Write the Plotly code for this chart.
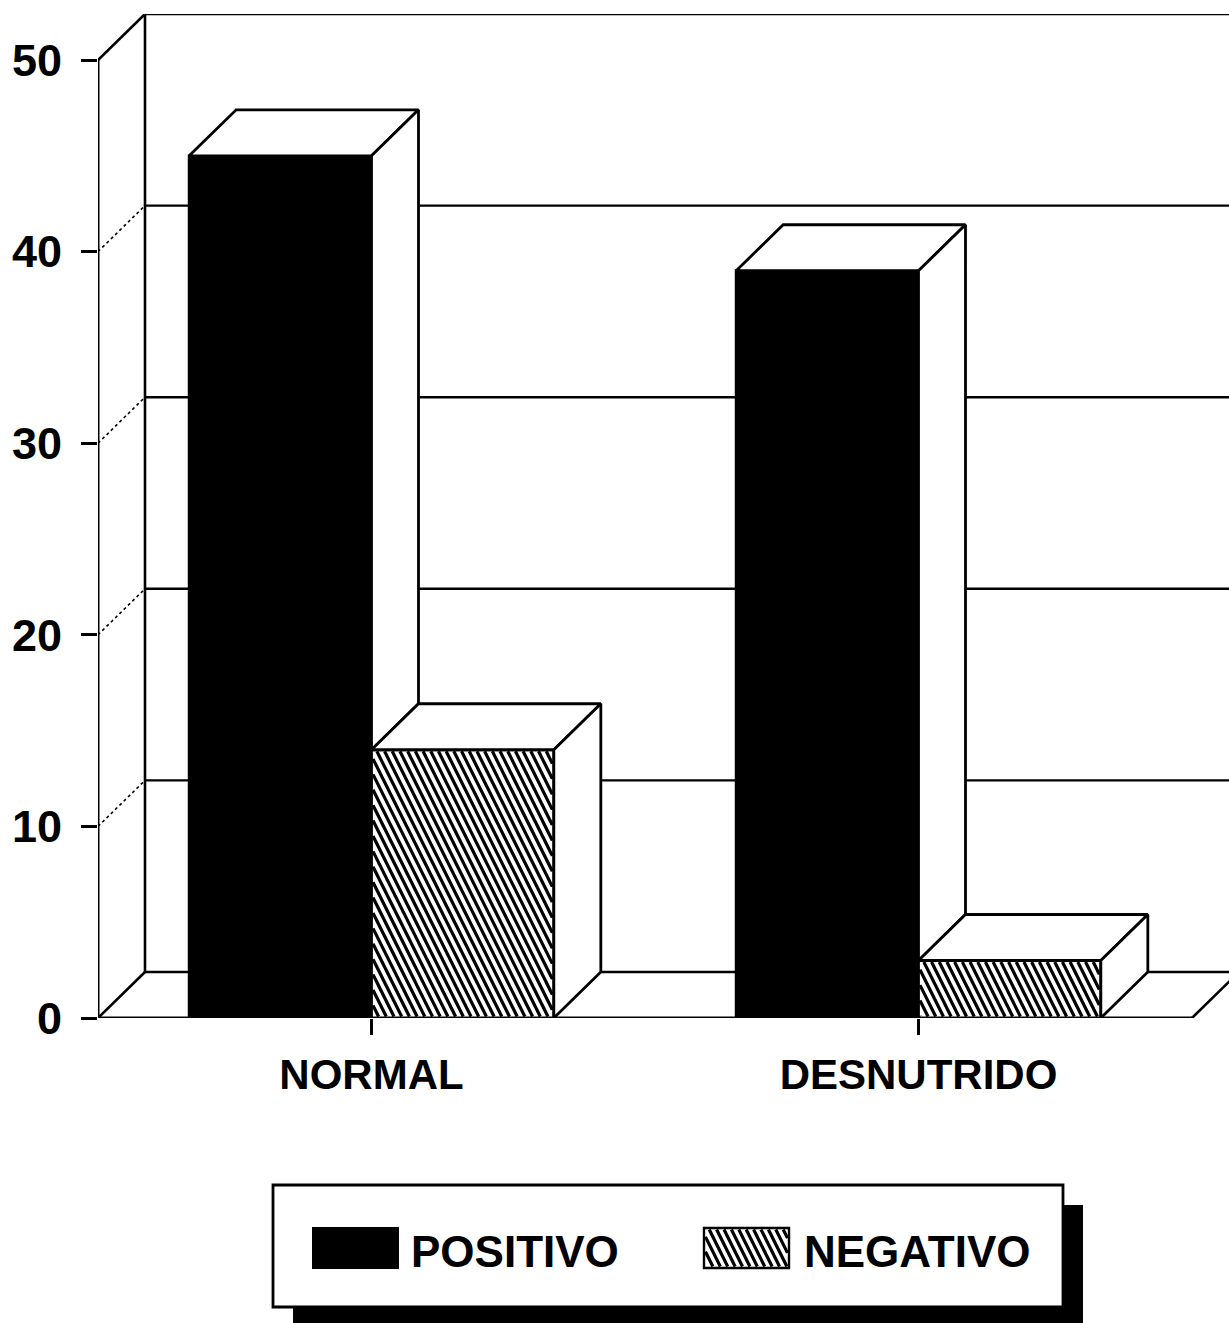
import plotly.graph_objects as go

# ---- data -------------------------------------------------------------
categories = ["NORMAL", "DESNUTRIDO"]
series_names = ["POSITIVO", "NEGATIVO"]
positivo = [45, 39]
negativo = [14, 3]
y_ticks = [0, 10, 20, 30, 40, 50]

# ---- geometry ---------------------------------------------------------
W, H = 1229, 1323
L, R, T, B = 98, 0, 14, 305
PLOT_W = W - L - R
PLOT_H = H - T - B

PX_X = 547.0          # pixels per category step
PX_Y = 19.16          # pixels per value unit
X_MIN = -0.5
X_MAX = X_MIN + PLOT_W / PX_X
Y_MAX = PLOT_H / PX_Y

DX = 47 / PX_X        # depth of the 3D box, in axis units
DY = 46 / PX_Y
BW = 1 / 3            # width of one bar
X_END = 1.5           # right end of the floor's front edge

FONT = "Liberation Sans, Arial, Helvetica, sans-serif"
INK = "black"
EDGE = 2.8


def d2px(x, y):
    return L + (x - X_MIN) * PX_X, T + PLOT_H - y * PX_Y


def px2d(px, py):
    return X_MIN + (px - L) / PX_X, (T + PLOT_H - py) / PX_Y


def px2paper(px, py):
    return (px - L) / PLOT_W, (T + PLOT_H - py) / PLOT_H


def hatch_px(x0, x1, ytop, ybot, period=7.7, slant=0.5, inset=1.5):
    """Steep '\\' hatch segments inside a screen-pixel rectangle."""
    x0 += inset; x1 -= inset; ytop += inset; ybot -= inset
    h = ybot - ytop
    segs = []
    k = 0
    while True:
        c = x0 + period * (k + 0.5)       # x where the line meets the top edge
        if c - period > x1:
            break
        s_lo = max(0.0, (x0 - c) / slant)
        s_hi = min(h, (x1 - c) / slant)
        if s_hi > s_lo:
            segs.append(((c + slant * s_lo, ytop + s_lo), (c + slant * s_hi, ytop + s_hi)))
        k += 1
    # lines entering from the left edge
    k = 1
    while True:
        c = x0 - period * (k - 0.5)
        s_lo = (x0 - c) / slant
        if s_lo >= h:
            break
        s_hi = min(h, (x1 - c) / slant)
        segs.append(((x0, ytop + s_lo), (c + slant * s_hi, ytop + s_hi)))
        k += 1
    return segs


fig = go.Figure()

# ---- front faces of the bars -------------------------------------------
fig.add_trace(go.Bar(
    x=[0, 1], y=positivo, name=series_names[0], width=BW, offset=-BW,
    marker=dict(color=INK, line=dict(color=INK, width=EDGE)),
))
fig.add_trace(go.Bar(
    x=[0, 1], y=negativo, name=series_names[1], width=BW, offset=0,
    marker=dict(color="white", line=dict(color=INK, width=EDGE)),
))


def poly(xs, ys):
    fig.add_trace(go.Scatter(
        x=xs + [xs[0]], y=ys + [ys[0]], mode="lines", fill="toself",
        fillcolor="white", line=dict(color=INK, width=EDGE),
        hoverinfo="skip",
    ))


hx, hy = [], []
for i in range(len(categories)):
    vp, vn = positivo[i], negativo[i]
    # positive bar: top and visible part of its right face
    x0, x1 = i - BW, i
    poly([x0, x1, x1 + DX, x0 + DX], [vp, vp, vp + DY, vp + DY])
    poly([x1, x1, x1 + DX, x1 + DX], [vn, vp, vp + DY, vn + DY])
    # negative bar: top and right face
    x0, x1 = i, i + BW
    poly([x0, x1, x1 + DX, x0 + DX], [vn, vn, vn + DY, vn + DY])
    poly([x1, x1, x1 + DX, x1 + DX], [0, vn, vn + DY, DY])
    # hatching on the negative bar's front face
    ax0, ay0 = d2px(x0, vn)
    ax1, ay1 = d2px(x1, 0)
    for (pa, pb) in hatch_px(ax0, ax1, ay0, ay1):
        xa, ya = px2d(*pa)
        xb, yb = px2d(*pb)
        hx += [xa, xb, None]
        hy += [ya, yb, None]

fig.add_trace(go.Scatter(x=hx, y=hy, mode="lines",
                         line=dict(color=INK, width=3.2), hoverinfo="skip"))

# ---- walls, floor and grid (behind the bars) ----------------------------
shapes = []


def seg(x0, y0, x1, y1, width=2.6, dash="solid"):
    shapes.append(dict(type="line", xref="x", yref="y", x0=x0, y0=y0, x1=x1, y1=y1,
                       layer="below", line=dict(color=INK, width=width, dash=dash)))


top = y_ticks[-1]
seg(X_MIN, 0, X_MIN, top, width=3)              # front vertical axis
seg(X_MIN + DX, DY, X_MIN + DX, top + DY)       # back wall left edge
seg(X_MIN, 0, X_MIN + DX, DY)                   # floor left diagonal
seg(X_MIN, top, X_MIN + DX, top + DY)           # top left diagonal
seg(X_MIN + DX, top + DY, X_MAX, top + DY)      # back wall top edge
seg(X_MIN + DX, DY, X_MAX, DY)                  # floor back edge
seg(X_MIN, 0, X_END, 0, width=3)                # floor front edge
seg(X_END, 0, X_END + DX, DY)                   # floor right diagonal
for v in y_ticks[1:-1]:
    seg(X_MIN + DX, v + DY, X_MAX, v + DY, width=2.4)         # back gridline
    seg(X_MIN, v, X_MIN + DX, v + DY, width=1.6, dash="dot")  # side wall

# ---- legend ------------------------------------------------------------
def rect_paper(px0, py0, px1, py1, fill, lw=0):
    a = px2paper(px0, py0)
    b = px2paper(px1, py1)
    shapes.append(dict(type="rect", xref="paper", yref="paper",
                       x0=a[0], y0=b[1], x1=b[0], y1=a[1], fillcolor=fill,
                       line=dict(color=INK, width=lw), layer="above"))


rect_paper(293, 1205, 1083, 1335, INK)                 # drop shadow
rect_paper(273, 1185, 1063, 1307, "white", lw=2.8)     # frame
rect_paper(313, 1228, 398, 1268, INK, lw=2)            # positive swatch
rect_paper(704, 1228, 789, 1268, "white", lw=2.4)      # negative swatch
path = ""
for (pa, pb) in hatch_px(704, 789, 1228, 1268, period=7.4):
    a = px2paper(*pa)
    b = px2paper(*pb)
    path += f"M{a[0]:.5f},{a[1]:.5f}L{b[0]:.5f},{b[1]:.5f}"
shapes.append(dict(type="path", xref="paper", yref="paper", path=path,
                   line=dict(color=INK, width=3.2), layer="above"))

annotations = []
for name, px in zip(series_names, [409, 802]):
    ax, ay = px2paper(px, 1251)
    annotations.append(dict(xref="paper", yref="paper", x=ax, y=ay, text=name,
                            showarrow=False, xanchor="left", yanchor="middle",
                            font=dict(family=FONT, size=44, color=INK, weight="bold")))

fig.update_layout(
    template="none",
    width=W, height=H,
    margin=dict(l=L, r=R, t=T, b=B, pad=0),
    paper_bgcolor="white", plot_bgcolor="white",
    showlegend=False, barmode="overlay",
    shapes=shapes, annotations=annotations,
    xaxis=dict(range=[X_MIN, X_MAX], tickvals=[0, 1], ticktext=categories,
               ticks="outside", ticklen=16, tickwidth=2.8, tickcolor=INK,
               ticklabelstandoff=4,
               showgrid=False, zeroline=False, showline=False, automargin=False,
               tickfont=dict(family=FONT, size=42, color=INK, weight="bold")),
    yaxis=dict(range=[0, Y_MAX], tickvals=y_ticks,
               ticks="outside", ticklen=16, tickwidth=2.8, tickcolor=INK,
               ticklabelstandoff=10,
               showgrid=False, zeroline=False, showline=False, automargin=False,
               tickfont=dict(family=FONT, size=45, color=INK, weight="bold")),
)

fig.write_html("out.html")
